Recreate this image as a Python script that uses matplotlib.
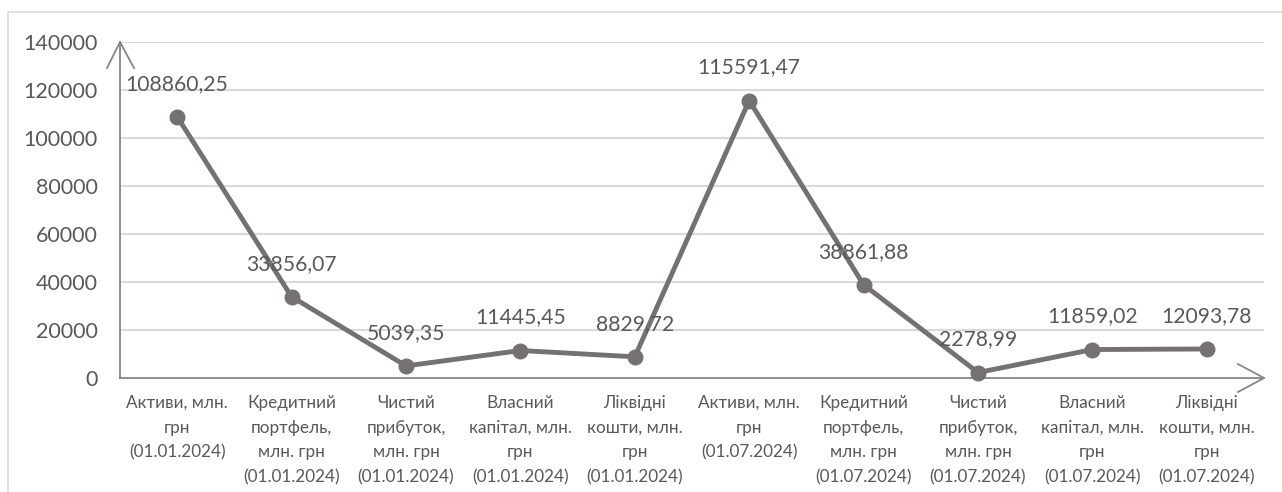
import matplotlib
matplotlib.use("Agg")
from matplotlib import pyplot as plt
from matplotlib.patches import Rectangle

plt.rcParams['font.family'] = ['Lato', 'DejaVu Sans']

# показники банку на дві звітні дати
names = ['Активи, млн.\nгрн',
         'Кредитний\nпортфель,\nмлн. грн',
         'Чистий\nприбуток,\nмлн. грн',
         'Власний\nкапітал, млн.\nгрн',
         'Ліквідні\nкошти, млн.\nгрн']
dates = ['01.01.2024', '01.07.2024']
values = [108860.25, 33856.07, 5039.35, 11445.45, 8829.72,
          115591.47, 38861.88, 2278.99, 11859.02, 12093.78]
yticks = [0, 20000, 40000, 60000, 80000, 100000, 120000, 140000]

labels = ['%s\n(%s)' % (n, d) for d in dates for n in names]

text_col = '#595959'
line_col = '#767171'
axis_col = '#868686'
grid_col = '#d9d9d9'

W, H = 1282, 492
fig = plt.figure(figsize=(W / 100, H / 100), dpi=100)

# рамка області діаграми
fig.patches.append(Rectangle((8 / W, -0.1), 1.2, 1 - 12 / H + 0.1,
                             transform=fig.transFigure, fill=False,
                             edgecolor=grid_col, linewidth=1.2))

ax = fig.add_axes([120 / W, (H - 378) / H, 1144 / W, 336 / H])
x = list(range(len(values)))

ax.plot(x, values, color=line_col, linewidth=3.5, marker='o',
        markersize=10.5, zorder=3, clip_on=False)

for xi, v in zip(x, values):
    txt = ('%.2f' % v).replace('.', ',')
    ax.annotate(txt, (xi, v), xytext=(0, 33), textcoords='offset pixels',
                ha='center', va='center', fontsize=15.2, color=text_col)

ax.set_xlim(-0.5, len(values) - 0.5)
ax.set_ylim(0, 140000)
ax.set_yticks(yticks)
ax.set_yticklabels([str(t) for t in yticks])
ax.set_xticks(x)
ax.set_xticklabels(labels, fontsize=12.3, color=text_col, linespacing=1.68,
                   va='top')
ax.tick_params(axis='y', length=0, pad=16, labelsize=15.5, labelcolor=text_col)
ax.tick_params(axis='x', length=0, pad=12)

for t in yticks[1:]:
    ax.axhline(t, color=grid_col, linewidth=1.5, zorder=1)

for s in ax.spines.values():
    s.set_visible(False)

# осі зі стрілками
tr = ax.transAxes
ax.plot([0, 0], [0, 1], color=axis_col, linewidth=1.3, transform=tr, clip_on=False)
ax.plot([0, 1], [0, 0], color=axis_col, linewidth=1.3, transform=tr, clip_on=False)
ax.plot([-13 / 1144, 0, 14 / 1144], [1 - 26 / 336, 1, 1 - 26 / 336],
        color=axis_col, linewidth=1.3, transform=tr, clip_on=False)
ax.plot([1 - 26 / 1144, 1, 1 - 26 / 1144], [14 / 336, 0, -14 / 336],
        color=axis_col, linewidth=1.3, transform=tr, clip_on=False)

fig.savefig('out.png', dpi=100)
